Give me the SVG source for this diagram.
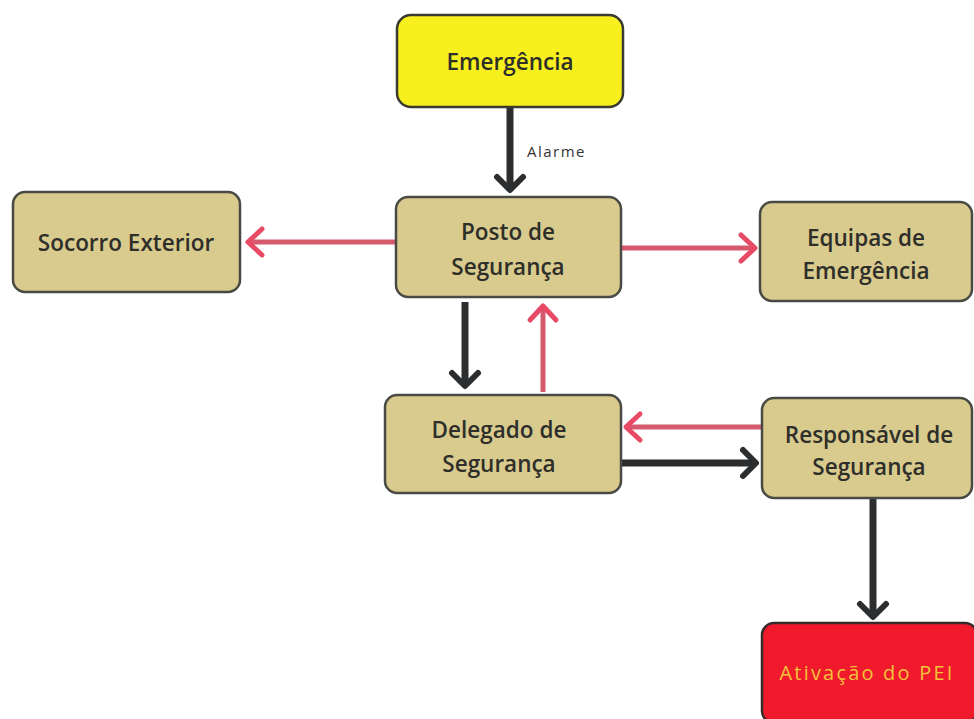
<svg xmlns="http://www.w3.org/2000/svg" width="974" height="719" viewBox="0 0 974 719">
<style>
.box{fill:#d9cb8e;stroke:#4a4a44;stroke-width:2.5}
.t{font-family:"Open Sans","Liberation Sans",sans-serif;font-size:22.5px;fill:#2e2e2a;text-anchor:middle;font-weight:600}
.blk{stroke:#2b2d2f;stroke-width:7;fill:none}
.red{stroke:#d65a6e;stroke-width:5;fill:none}
</style>
<defs>
<marker id="ab" markerUnits="userSpaceOnUse" viewBox="-20 -18 26 36" refX="0" refY="0" markerWidth="26" markerHeight="36" orient="auto">
<path d="M-12,-13 L1,0 L-12,13" fill="none" stroke="#2b2d2f" stroke-width="6" stroke-linecap="round" stroke-linejoin="round"/>
</marker>
<marker id="ar" markerUnits="userSpaceOnUse" viewBox="-20 -18 26 36" refX="0" refY="0" markerWidth="26" markerHeight="36" orient="auto">
<path d="M-13,-13 L1,0 L-13,13" fill="none" stroke="#e84a66" stroke-width="5" stroke-linecap="round" stroke-linejoin="round"/>
</marker>
</defs>
<rect width="974" height="719" fill="#ffffff"/>
<g id="connectors">
<line class="blk" x1="510" y1="107" x2="510" y2="189" marker-end="url(#ab)"/>
<text x="527" y="157" style="font-family:'Open Sans','Liberation Sans',sans-serif;font-size:15px;letter-spacing:1.5px;fill:#333">Alarme</text>
<line class="red" x1="396" y1="242" x2="249" y2="242" marker-end="url(#ar)"/>
<line class="red" x1="621" y1="248" x2="754" y2="248" marker-end="url(#ar)"/>
<line class="blk" x1="465" y1="302" x2="465" y2="385" marker-end="url(#ab)"/>
<line class="red" x1="543" y1="392" x2="543" y2="307" marker-end="url(#ar)"/>
<line class="red" x1="762" y1="427" x2="627" y2="427" marker-end="url(#ar)"/>
<line class="blk" x1="621" y1="463" x2="755" y2="463" marker-end="url(#ab)"/>
<line class="blk" x1="873" y1="498" x2="873" y2="616" marker-end="url(#ab)"/>
</g>
<g id="emergencia">
<rect x="397" y="15" width="226" height="92" rx="14" fill="#f7ef1e" stroke="#3a3a30" stroke-width="2.5"/>
<text class="t" x="510" y="70">Emergência</text>
</g>
<g id="posto">
<rect class="box" x="396" y="197" width="225" height="100" rx="12"/>
<text class="t" x="508" y="240">Posto de</text>
<text class="t" x="508" y="275">Segurança</text>
</g>
<g id="socorro">
<rect class="box" x="13" y="192" width="227" height="100" rx="12"/>
<text class="t" x="126" y="251">Socorro Exterior</text>
</g>
<g id="equipas">
<rect class="box" x="760" y="202" width="212" height="99" rx="12"/>
<text class="t" x="866" y="246">Equipas de</text>
<text class="t" x="866" y="279">Emergência</text>
</g>
<g id="delegado">
<rect class="box" x="385" y="395" width="236" height="98" rx="12"/>
<text class="t" x="499" y="438">Delegado de</text>
<text class="t" x="499" y="472">Segurança</text>
</g>
<g id="responsavel">
<rect class="box" x="762" y="398" width="210" height="100" rx="12"/>
<text class="t" x="869" y="443">Responsável de</text>
<text class="t" x="869" y="475">Segurança</text>
</g>
<g id="ativacao">
<rect x="762" y="623" width="215" height="100" rx="12" fill="#f01a2c" stroke="#3a2a2a" stroke-width="2.5"/>
<text x="867" y="680" style="font-family:'Open Sans','Liberation Sans',sans-serif;font-size:20px;letter-spacing:2.2px;fill:#f2c23a;text-anchor:middle">Ativação do PEI</text>
</g>
</svg>
